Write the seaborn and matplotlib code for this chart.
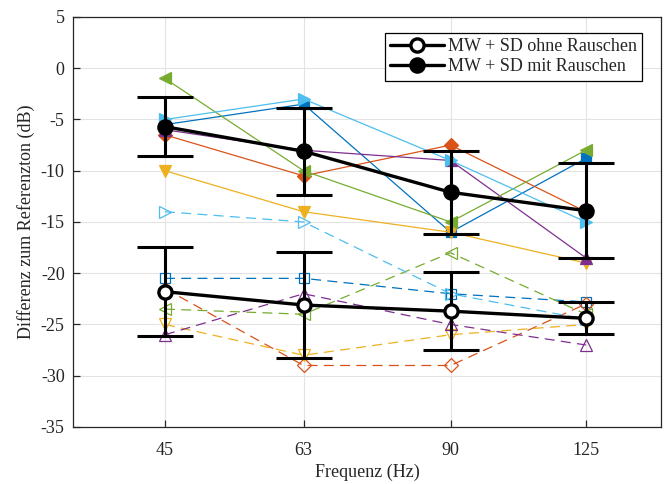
import matplotlib
matplotlib.use("Agg")
import matplotlib.pyplot as plt
import seaborn as sns
import numpy as np
import pandas as pd
from matplotlib.lines import Line2D
from matplotlib.ticker import NullLocator

# ---- data ----
freqs = [45, 63, 90, 125]
freq_labels = ["45", "63", "90", "125"]

# mit Rauschen (solid, filled markers)
mit_blue = [-5.5, -3.5, -16, -8.8]
mit_orange = [-6.5, -10.5, -7.5, -14]
mit_yellow = [-10, -14, -16, -19]
mit_purple = [-6, -8, -9, -18.5]
mit_green = [-1, -10, -15, -8]
mit_lightblue = [-5, -3, -9, -15]

# ohne Rauschen (dashed, open markers)
ohne_blue = [-20.5, -20.5, -22, -22.8]
ohne_orange = [-21.5, -29, -29, -23]
ohne_yellow = [-25, -28, -26, -25]
ohne_purple = [-26, -22, -25, -27]
ohne_green = [-23.5, -24, -18, -24]
ohne_lightblue = [-14, -15, -22, -24.5]

mean_mit = [-5.7, -8.1, -12.1, -13.9]
sd_mit = [2.9, 4.25, 4.05, 4.65]
mean_ohne = [-21.8, -23.1, -23.7, -24.4]
sd_ohne = [4.35, 5.2, 3.8, 1.55]

legend_labels = ["MW + SD ohne Rauschen", "MW + SD mit Rauschen"]

colors = ["#0072BD", "#D95319", "#EDB120", "#7E2F8E", "#77AC30", "#4DBEEE"]
markers = ["s", "D", "v", "^", "<", ">"]
msizes = [7.5, 7, 9, 9, 9, 9]

sns.set_theme(style="whitegrid")
plt.rcParams["font.family"] = ["Liberation Serif", "DejaVu Serif"]
plt.rcParams["font.size"] = 13

fig = plt.figure(figsize=(6.65, 4.84), dpi=100)
ax = fig.add_axes([0.1098, 0.1178, 0.994 - 0.1098, 0.9649 - 0.1178])
ax.set_facecolor("white")

ohne_series = [ohne_blue, ohne_orange, ohne_yellow, ohne_purple, ohne_green, ohne_lightblue]
mit_series = [mit_blue, mit_orange, mit_yellow, mit_purple, mit_green, mit_lightblue]

for vals, c, m, ms in zip(ohne_series, colors, markers, msizes):
    sns.lineplot(x=freqs, y=vals, ax=ax, color=c, marker=m, markersize=ms,
                 markerfacecolor="none", markeredgecolor=c, markeredgewidth=0.9,
                 linewidth=0.9, linestyle=(0, (8, 5)), sort=False, zorder=3)

for vals, c, m, ms in zip(mit_series, colors, markers, msizes):
    sns.lineplot(x=freqs, y=vals, ax=ax, color=c, marker=m, markersize=ms,
                 markerfacecolor=c, markeredgecolor=c, markeredgewidth=0.9,
                 linewidth=0.9, linestyle="-", sort=False, zorder=4)

# means with SD
ax.errorbar(freqs, mean_ohne, yerr=sd_ohne, fmt="none", ecolor="black",
            elinewidth=2.2, capsize=20, capthick=2.2, zorder=5)
ax.errorbar(freqs, mean_mit, yerr=sd_mit, fmt="none", ecolor="black",
            elinewidth=2.2, capsize=20, capthick=2.2, zorder=5)
sns.lineplot(x=freqs, y=mean_ohne, ax=ax, color="black", linewidth=2.4,
             marker="o", markersize=9.5, markerfacecolor="white",
             markeredgecolor="black", markeredgewidth=2.4, sort=False, zorder=6)
sns.lineplot(x=freqs, y=mean_mit, ax=ax, color="black", linewidth=2.4,
             marker="o", markersize=9.5, markerfacecolor="black",
             markeredgecolor="black", markeredgewidth=2.4, sort=False, zorder=6)

ax.set_xscale("log")
ax.set_xlim(36, 150)
ax.set_ylim(-35, 5)
ax.set_xticks(freqs)
ax.set_xticklabels(freq_labels)
ax.xaxis.set_minor_locator(NullLocator())
ax.set_yticks(np.arange(-35, 6, 5))
ax.set_yticklabels([str(v) for v in range(-35, 6, 5)])

ax.grid(True, color="#E3E3E3", linewidth=0.8)
for sp in ax.spines.values():
    sp.set_color("#262626")
    sp.set_linewidth(0.9)
    sp.set_visible(True)
ax.tick_params(axis="both", direction="in", length=5, width=0.9, colors="#262626",
               labelsize=13, labelcolor="#262626")
ax.tick_params(axis="y", pad=6)
ax.tick_params(axis="x", pad=11)
ax.tick_params(bottom=True, left=True)

ax.set_xlabel("Frequenz (Hz)", fontsize=13, color="#262626", labelpad=3)
ax.set_ylabel("Differenz zum Referenzton (dB)", fontsize=13, color="#262626", labelpad=4)

handles = [
    Line2D([], [], color="black", linewidth=2.4, marker="o", markersize=9.5,
           markerfacecolor="white", markeredgecolor="black", markeredgewidth=2.4),
    Line2D([], [], color="black", linewidth=2.4, marker="o", markersize=9.5,
           markerfacecolor="black", markeredgecolor="black", markeredgewidth=2.4),
]
leg = ax.legend(handles, legend_labels, loc="upper right",
                bbox_to_anchor=(0.968, 0.961), frameon=True, fancybox=False,
                framealpha=1, edgecolor="black", fontsize=13, handlelength=3.0,
                handletextpad=0.2, borderpad=0.3, labelspacing=0.15,
                borderaxespad=0)
leg.get_frame().set_linewidth(0.9)
leg.set_zorder(10)

fig.savefig("out.png", dpi=100)
